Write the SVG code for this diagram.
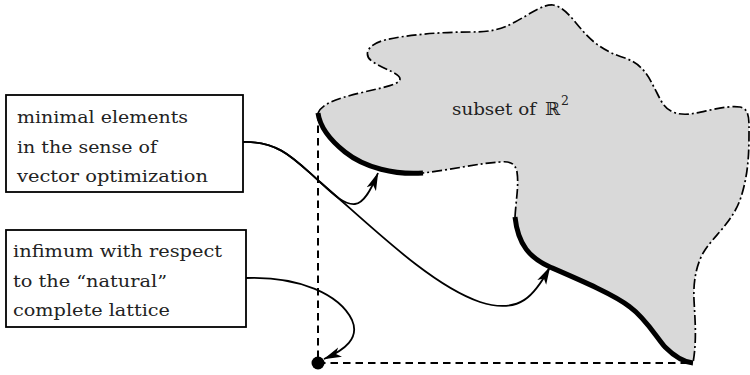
<svg xmlns="http://www.w3.org/2000/svg" width="750" height="375" viewBox="0 0 750 375">
<style>
.box{fill:#fff;stroke:#000;stroke-width:1.8}
.lbl{font-family:"DejaVu Serif",serif;font-size:17.5px;fill:#222}
.dd{fill:none;stroke:#000;stroke-width:1.7;stroke-dasharray:10 3 2 3}
.thick{fill:none;stroke:#000;stroke-width:5;stroke-linecap:butt}
.dash{fill:none;stroke:#000;stroke-width:2;stroke-dasharray:7.5 5}
.conn{fill:none;stroke:#000;stroke-width:1.8;marker-end:url(#arr)}
</style>
<defs>
<marker id="arr" viewBox="0 0 18 11" refX="17.5" refY="5.5" markerWidth="18" markerHeight="11" markerUnits="userSpaceOnUse" orient="auto">
<path d="M0,0.5 L18,5.5 L0,10.5 L4.5,5.5 z" fill="#000"/>
</marker>
</defs>
<rect width="750" height="375" fill="#fff"/>
<g id="set">
<path fill="#d9d9d9" stroke="none" d="M318,113 C322,104 335,99 360,93 C380,88 400,85 400,79 C400,73 385,70 373,62 C362,55 368,44 385,40 C405,35 440,32 470,32 C490,32 500,30 515,22 C530,14 543,4 553,5 C565,7 573,20 582,30 C592,42 605,52 625,58 C645,65 650,80 657,93 C663,105 668,116 690,114 C705,112 725,105 740,107 C750,109 749,120 749,135 C749,160 747,180 740,200 C732,222 715,235 705,250 C697,262 693,280 694,300 C695,320 697,340 693,363 C683,362 675,357 665,347 C655,335 645,318 630,307 C615,295 580,280 550,267 C530,258 518,245 515,217 C516,200 519,185 517,172 C515,163 510,161 500,162 C480,163 450,170 423,173 C395,175 365,168 345,152 C330,140 320,128 318,113 Z"/>
<path class="dd" d="M318,113 C322,104 335,99 360,93 C380,88 400,85 400,79 C400,73 385,70 373,62 C362,55 368,44 385,40 C405,35 440,32 470,32 C490,32 500,30 515,22 C530,14 543,4 553,5 C565,7 573,20 582,30 C592,42 605,52 625,58 C645,65 650,80 657,93 C663,105 668,116 690,114 C705,112 725,105 740,107 C750,109 749,120 749,135 C749,160 747,180 740,200 C732,222 715,235 705,250 C697,262 693,280 694,300 C695,320 697,340 693,363"/>
<path class="dd" d="M515,217 C516,200 519,185 517,172 C515,163 510,161 500,162 C480,163 450,170 423,173"/>
<path class="thick" d="M693,363 C683,362 675,357 665,347 C655,335 645,318 630,307 C615,295 580,280 550,267 C530,258 518,245 515,217"/>
<path class="thick" d="M423,173 C395,175 365,168 345,152 C330,140 320,128 318,113"/>
<text class="lbl" x="452" y="115"><tspan textLength="84" lengthAdjust="spacingAndGlyphs">subset of</tspan><tspan x="545" font-size="18px">ℝ</tspan><tspan x="561" y="105" font-size="12.5px">2</tspan></text>
</g>
<g id="axes">
<path class="dash" d="M318,113 L318,363 L693,363"/>
</g>
<g id="infimum-point">
<circle cx="318" cy="363" r="6.5" fill="#000"/>
</g>
<g id="box1">
<rect class="box" x="6" y="95" width="237" height="97"/>
<text class="lbl" x="17" y="123" textLength="171" lengthAdjust="spacingAndGlyphs">minimal elements</text>
<text class="lbl" x="17" y="153" textLength="140" lengthAdjust="spacingAndGlyphs">in the sense of</text>
<text class="lbl" x="17" y="182" textLength="191" lengthAdjust="spacingAndGlyphs">vector optimization</text>
</g>
<g id="box2">
<rect class="box" x="6" y="230" width="240" height="97"/>
<text class="lbl" x="13" y="257" textLength="209" lengthAdjust="spacingAndGlyphs">infimum with respect</text>
<text class="lbl" x="13" y="287" textLength="154" lengthAdjust="spacingAndGlyphs">to the “natural”</text>
<text class="lbl" x="13" y="316" textLength="157" lengthAdjust="spacingAndGlyphs">complete lattice</text>
</g>
<g id="connectors">
<path class="conn" d="M243,142 C280,141 295,160 320,182 C335,196 345,205 355,204 C364,203 371,190 378,173"/>
<path class="conn" d="M243,142 C280,141 295,160 320,182 C370,225 430,285 480,302 C520,315 535,295 550,267"/>
<path class="conn" d="M246,278 C300,276 340,295 352,320 C360,338 345,350 324,359"/>
</g>
</svg>
